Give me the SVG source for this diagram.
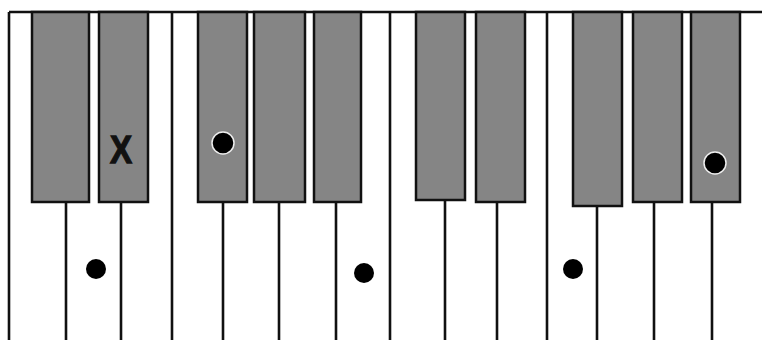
<svg xmlns="http://www.w3.org/2000/svg" width="762" height="343" viewBox="0 0 762 343">
<style>
.bk{fill:#858585;stroke:#111;stroke-width:2.5}
.ln{stroke:#111;stroke-width:2.6;fill:none}
.dot{fill:#000}
.halo{fill:#000;stroke:#eee;stroke-width:1.5}
.mark{font-family:"Liberation Sans",Arial,sans-serif;font-weight:bold;font-size:36px;fill:#111;stroke:#111;stroke-width:1.2}
</style>
<rect width="762" height="343" fill="#fff"/>
<g id="connectors">
<line class="ln" x1="9" y1="12" x2="762" y2="12"/>
<line class="ln" x1="9" y1="12" x2="9" y2="340"/>
<line class="ln" x1="172" y1="12" x2="172" y2="340"/>
<line class="ln" x1="390" y1="12" x2="390" y2="340"/>
<line class="ln" x1="547" y1="12" x2="547" y2="340"/>
<line class="ln" x1="66" y1="202" x2="66" y2="340"/>
<line class="ln" x1="121" y1="202" x2="121" y2="340"/>
<line class="ln" x1="223" y1="202" x2="223" y2="340"/>
<line class="ln" x1="279" y1="202" x2="279" y2="340"/>
<line class="ln" x1="336" y1="202" x2="336" y2="340"/>
<line class="ln" x1="445" y1="200" x2="445" y2="340"/>
<line class="ln" x1="497" y1="202" x2="497" y2="340"/>
<line class="ln" x1="597" y1="206" x2="597" y2="340"/>
<line class="ln" x1="654" y1="202" x2="654" y2="340"/>
<line class="ln" x1="712" y1="202" x2="712" y2="340"/>
</g>
<g id="key1"><rect class="bk" x="32" y="12" width="57" height="190"/></g>
<g id="key2"><rect class="bk" x="99" y="12" width="49" height="190"/>
<text class="mark" transform="translate(121,163) scale(0.92,1.1)" x="0" y="0" text-anchor="middle">X</text></g>
<g id="key3"><rect class="bk" x="198" y="12" width="49" height="190"/><circle class="halo" cx="223" cy="143" r="11"/></g>
<g id="key4"><rect class="bk" x="254" y="12" width="51" height="190"/></g>
<g id="key5"><rect class="bk" x="314" y="12" width="47" height="190"/></g>
<g id="key6"><rect class="bk" x="416" y="12" width="49" height="188"/></g>
<g id="key7"><rect class="bk" x="476" y="12" width="49" height="190"/></g>
<g id="key8"><rect class="bk" x="573" y="12" width="49" height="194"/></g>
<g id="key9"><rect class="bk" x="633" y="12" width="49" height="190"/></g>
<g id="key10"><rect class="bk" x="691" y="12" width="49" height="190"/><circle class="halo" cx="715" cy="163" r="11"/></g>
<g id="dots">
<circle class="dot" cx="96" cy="269" r="10"/>
<circle class="dot" cx="364" cy="273" r="10"/>
<circle class="dot" cx="573" cy="269" r="10"/>
</g>
</svg>
